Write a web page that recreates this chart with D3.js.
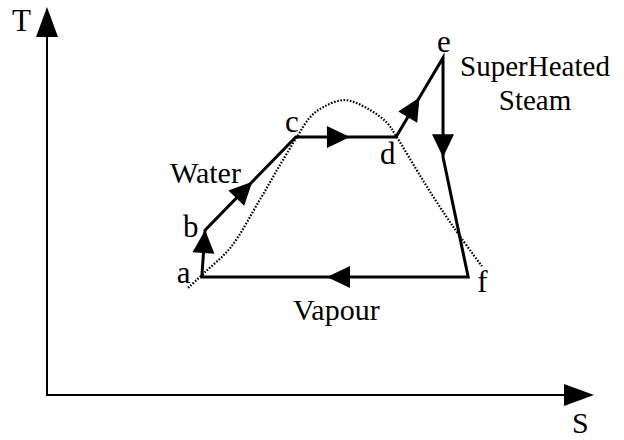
<!DOCTYPE html>
<html>
<head>
<meta charset="utf-8">
<script src="https://cdn.jsdelivr.net/npm/d3@7"></script>
<style>
  html, body { margin: 0; padding: 0; background: #fff; }
  text { font-family: "Liberation Serif", "Times New Roman", serif; fill: #000; }
</style>
</head>
<body>
<script>
// T-S diagram, units are arbitrary (0..100 on both axes)
const cycleIds = ["a", "b", "c", "d", "e", "g", "f"];
const cycleS   = [28.3, 28.9, 45.5, 63.8, 72.4, 72.4, 77.0];
const cycleT   = [30.4, 42.5, 66.5, 66.5, 86.9, 61.3, 30.4];
const shownLabels = ["a", "b", "c", "d", "e", "f"];

// saturation dome (dotted)
const domeS = [25.8, 28.9, 33.5, 38.9, 42.6, 45.7, 48.1, 50.5, 54.5, 59.0, 62.2, 63.8, 68.7, 72.8, 75.7, 79.5];
const domeT = [27.6, 31.7, 37.9, 50.3, 59.3, 66.5, 71.6, 74.2, 76.0, 73.5, 70.1, 66.8, 55.4, 46.4, 40.5, 33.2];

// direction arrows: segment and where the tip sits along it
const arrowFrom = ["a", "b", "c", "d", "e", "f"];
const arrowTo   = ["b", "c", "d", "e", "g", "a"];
const arrowAt   = [1.0, 0.52, 0.54, 0.5, 1.0, 0.53];

const axisLabels = { s: "S", t: "T" };
const regionLabels = ["Water", "Vapour", "SuperHeated", "Steam"];

const W = 624, H = 440;
const svg = d3.select("body").append("svg")
  .attr("width", W)
  .attr("height", H);

const x = d3.scaleLinear().domain([0, 100]).range([47, 594]);
const y = d3.scaleLinear().domain([0, 100]).range([395, 7]);

const pts = {};
cycleIds.forEach((id, i) => { pts[id] = [x(cycleS[i]), y(cycleT[i])]; });

function tri(tip, angle, len, half) {
  // triangle pointing along angle, tip at given point
  const c = Math.cos(angle), s = Math.sin(angle);
  const bx = tip[0] - c * len, by = tip[1] - s * len;
  return `M${tip[0]},${tip[1]}L${bx - s * half},${by + c * half}L${bx + s * half},${by - c * half}Z`;
}

// axes
svg.append("path")
  .attr("d", `M${x(0)},${y(100) + 20}L${x(0)},${y(0)}L${x(100) - 20},${y(0)}`)
  .attr("fill", "none")
  .attr("stroke", "#000")
  .attr("stroke-width", 2);

svg.append("path").attr("d", tri([x(0), y(100)], -Math.PI / 2, 30, 11)).attr("fill", "#000");
svg.append("path").attr("d", tri([x(100), y(0)], 0, 30, 11)).attr("fill", "#000");

svg.append("text").attr("x", 12).attr("y", 31).attr("font-size", "31px").text(axisLabels.t);
svg.append("text").attr("x", 572).attr("y", 433).attr("font-size", "30px").text(axisLabels.s);

// dome
const dome = domeS.map((s, i) => [x(s), y(domeT[i])]);
svg.append("path")
  .attr("d", d3.line().curve(d3.curveCatmullRom.alpha(0.5))(dome))
  .attr("fill", "none")
  .attr("stroke", "#000")
  .attr("stroke-width", 2.2)
  .attr("stroke-dasharray", "1.6,1.6");

// cycle
const loop = cycleIds.map(id => pts[id]);
svg.append("path")
  .attr("d", d3.line()(loop) + "Z")
  .attr("fill", "none")
  .attr("stroke", "#000")
  .attr("stroke-width", 3)
  .attr("stroke-linejoin", "miter");

arrowFrom.forEach((f, i) => {
  const p0 = pts[f], p1 = pts[arrowTo[i]];
  const tip = [p0[0] + (p1[0] - p0[0]) * arrowAt[i], p0[1] + (p1[1] - p0[1]) * arrowAt[i]];
  const ang = Math.atan2(p1[1] - p0[1], p1[0] - p0[0]);
  svg.append("path").attr("d", tri(tip, ang, 23, 11)).attr("fill", "#000");
});

// point labels
const labelOffset = { a: [-25, 6], b: [-22, 7], c: [-11, -5], d: [-16, 27], e: [-6, -6], f: [9, 15] };
shownLabels.forEach(id => {
  svg.append("text")
    .attr("x", pts[id][0] + labelOffset[id][0])
    .attr("y", pts[id][1] + labelOffset[id][1])
    .attr("font-size", "31px")
    .text(id);
});

svg.append("text").attr("x", 170).attr("y", 183).attr("font-size", "30px").text(regionLabels[0]);
svg.append("text").attr("x", 293).attr("y", 320).attr("font-size", "30px").text(regionLabels[1]);
svg.append("text").attr("x", 535).attr("y", 76).attr("text-anchor", "middle").attr("font-size", "29px").text(regionLabels[2]);
svg.append("text").attr("x", 535).attr("y", 110).attr("text-anchor", "middle").attr("font-size", "29px").text(regionLabels[3]);
</script>
</body>
</html>
